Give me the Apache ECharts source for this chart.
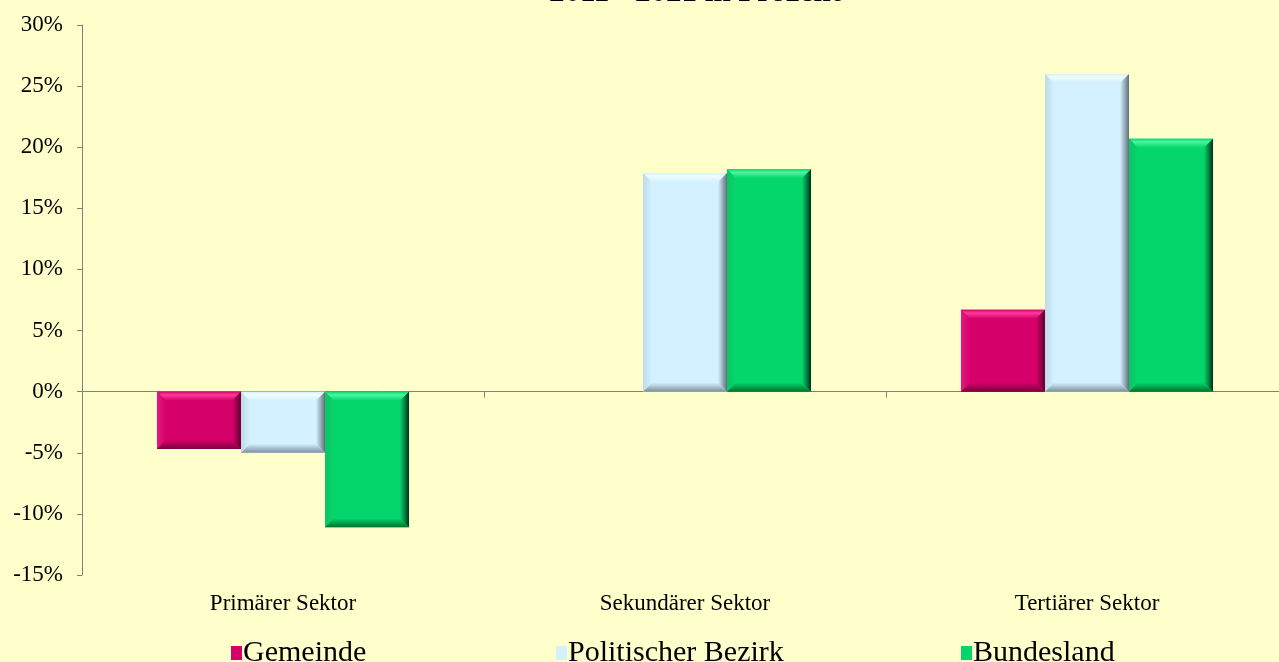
<!DOCTYPE html>
<html><head><meta charset="utf-8">
<script src="https://cdn.jsdelivr.net/npm/echarts@6/dist/echarts.min.js"></script>
<style>html,body{margin:0;padding:0;background:#FFFFCC;overflow:hidden}#c{width:1288px;height:662px}</style>
</head><body><div id="c"></div>
<script>
const categories = ['Primärer Sektor', 'Sekundärer Sektor', 'Tertiärer Sektor'];
const seriesNames = ['Gemeinde', 'Politischer Bezirk', 'Bundesland'];
const gemeinde = [-4.7, 0, 6.7];
const bezirk = [-5.0, 17.9, 26.0];
const bundesland = [-11.1, 18.2, 20.7];
const yTicks = { min: -15, max: 30, interval: 5 };
const titleText = '2011 - 2021 in Prozent';

const palettes = [
  { main: '#D5006A', top: '#FF3A9C', left: '#E41A80', right: '#5E002E', bottom: '#7A003E' },
  { main: '#D3F1FF', top: '#F0FDFF', left: '#BFD9E8', right: '#5F6E7A', bottom: '#7D8E9B' },
  { main: '#05D66C', top: '#4CF7A0', left: '#0DC463', right: '#00301A', bottom: '#00702C' }
];
const values = [gemeinde, bezirk, bundesland];
const serif = '"Liberation Serif", "Times New Roman", serif';
const LG = echarts.graphic.LinearGradient;

function makeRender(idx) {
  const p = palettes[idx];
  return function (params, api) {
    const cat = api.value(0), v = api.value(1);
    const band = api.size([1, 0])[0];
    const bw = band * 0.209;
    const base = api.coord([cat, 0]);
    const end = api.coord([cat, v]);
    const cx = base[0] + (idx - 1) * bw;
    const x0 = cx - bw / 2, x1 = cx + bw / 2;
    const yt = Math.min(base[1], end[1]), yb = Math.max(base[1], end[1]);
    const h = yb - yt;
    if (h < 0.5) return { type: 'group', children: [] };
    const b = Math.min(9, h / 2, bw / 2);
    return {
      type: 'group',
      children: [
        { type: 'rect', shape: { x: x0, y: yt, width: bw, height: h }, style: { fill: p.main } },
        { type: 'polygon', shape: { points: [[x0, yt], [x1, yt], [x1 - b, yt + b], [x0 + b, yt + b]] },
          style: { fill: new LG(0, yt, 0, yt + b, [{ offset: 0, color: p.main }, { offset: 0.35, color: p.top }, { offset: 1, color: p.main }], true) } },
        { type: 'polygon', shape: { points: [[x0, yt], [x0 + b, yt + b], [x0 + b, yb - b], [x0, yb]] },
          style: { fill: new LG(x0, 0, x0 + b, 0, [{ offset: 0, color: p.left }, { offset: 1, color: p.main }], true) } },
        { type: 'polygon', shape: { points: [[x1, yt], [x1, yb], [x1 - b, yb - b], [x1 - b, yt + b]] },
          style: { fill: new LG(x1, 0, x1 - b, 0, [{ offset: 0, color: p.right }, { offset: 1, color: p.main }], true) } },
        { type: 'polygon', shape: { points: [[x0, yb], [x1, yb], [x1 - b, yb - b], [x0 + b, yb - b]] },
          style: { fill: new LG(0, yb, 0, yb - b, [{ offset: 0, color: p.bottom }, { offset: 1, color: p.main }], true) } }
      ]
    };
  };
}

const legendLefts = [231, 556, 961];
const chart = echarts.init(document.getElementById('c'));
chart.setOption({
  backgroundColor: '#FFFFCC',
  animation: false,
  graphic: [{
    type: 'text', x: 695, y: -23,
    style: { text: titleText, font: 'bold 31px ' + serif, fill: '#000', align: 'center', verticalAlign: 'top' }
  }],
  legend: seriesNames.map((name, i) => ({
    left: legendLefts[i], top: 638, padding: 0, itemWidth: 11, itemHeight: 14, icon: 'rect', selectedMode: false,
    textStyle: { fontFamily: serif, fontSize: 30, color: '#000', padding: [0, 0, 0, -4] },
    data: [name]
  })),
  grid: { left: 82, right: 0, top: 25, bottom: 87, containLabel: false },
  xAxis: [{
    type: 'category', data: categories, position: 'bottom',
    axisLine: { onZero: true, lineStyle: { color: '#808080', width: 1 } },
    axisTick: { show: true, length: 6, lineStyle: { color: '#808080' } },
    axisLabel: { show: false }, splitLine: { show: false }
  }, {
    type: 'category', data: categories, position: 'bottom',
    axisLine: { show: false, onZero: false }, axisTick: { show: false },
    axisLabel: { fontFamily: serif, fontSize: 23, color: '#000', margin: 17 },
    splitLine: { show: false }
  }],
  yAxis: {
    type: 'value', min: yTicks.min, max: yTicks.max, interval: yTicks.interval,
    axisLine: { show: true, lineStyle: { color: '#808080' } },
    axisTick: { show: true, length: 5, lineStyle: { color: '#808080' } },
    axisLabel: { fontFamily: serif, fontSize: 23, color: '#000', margin: 19, formatter: '{value}%' },
    splitLine: { show: false }
  },
  series: seriesNames.map((name, i) => ({
    name, type: 'custom', coordinateSystem: 'cartesian2d', xAxisIndex: 0, yAxisIndex: 0,
    itemStyle: { color: palettes[i].main },
    encode: { x: 0, y: 1 },
    data: values[i].map((v, k) => [k, v]),
    renderItem: makeRender(i)
  }))
});
</script></body></html>
